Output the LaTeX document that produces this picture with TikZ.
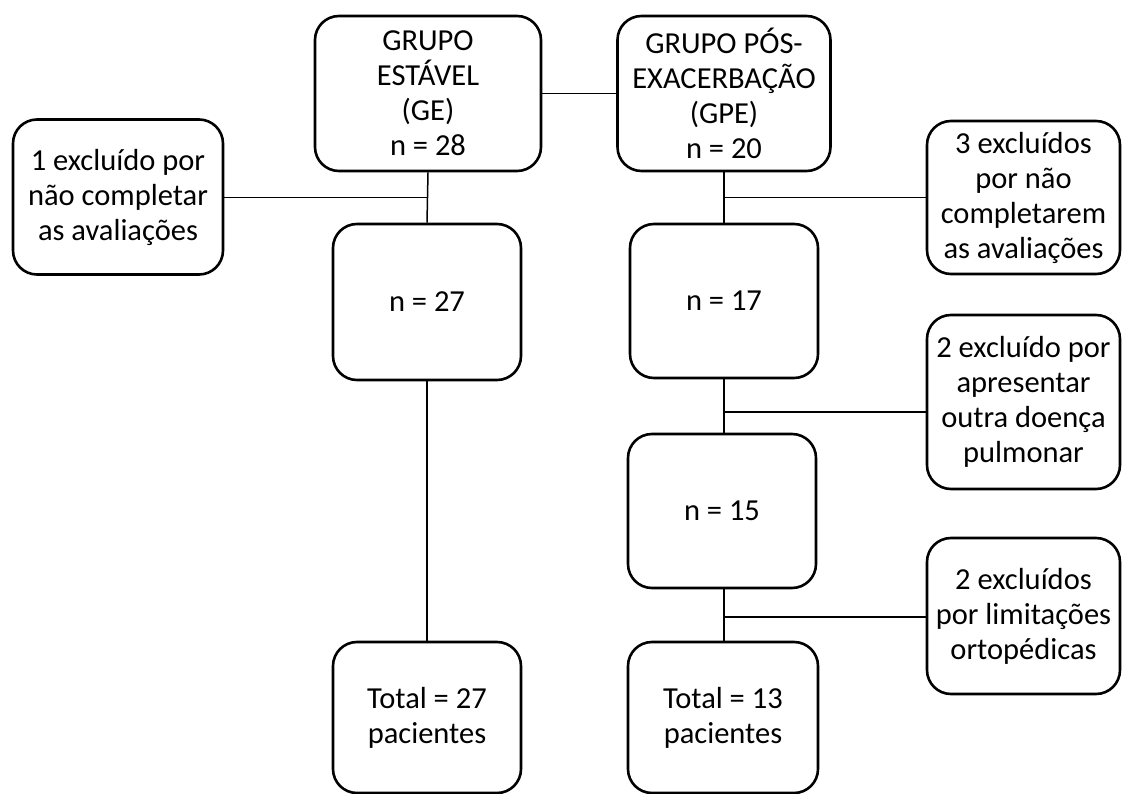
\documentclass[tikz,border=0pt]{standalone}
\usepackage{fontspec}
\setmainfont{Carlito}
\usetikzlibrary{calc}

\begin{document}
\begin{tikzpicture}[x=1pt,y=-1pt,
  flowbox/.style={draw=black,line width=2.6pt,rounded corners=24pt,fill=white,
    align=center,inner sep=0pt,font=\fontsize{30.5}{35}\selectfont},
  link/.style={draw=black,line width=1.5pt}]
  \useasboundingbox (0,0) rectangle (1125,794);

  % left column
  \node[flowbox,minimum width=226pt,minimum height=155pt] (ge) at (428,93.5)
    {GRUPO\\ESTÁVEL\\(GE)\\n = 28};
  \node[flowbox,minimum width=210pt,minimum height=155pt] (excl1) at (118,197)
    {1 excluído por\\não completar\\as avaliações};
  \node[flowbox,minimum width=188pt,minimum height=156pt] (n27) at (427,302)
    {n = 27};
  \node[flowbox,minimum width=188pt,minimum height=151pt] (tot27) at (427,717.5)
    {Total = 27\\pacientes};

  % right column
  \node[flowbox,minimum width=213pt,minimum height=155pt] (gpe) at (724,93.5)
    {GRUPO PÓS-\\EXACERBAÇÃO\\(GPE)\\n = 20};
  \node[flowbox,minimum width=188pt,minimum height=154pt] (n17) at (724,301)
    {n = 17};
  \node[flowbox,minimum width=188pt,minimum height=154pt] (n15) at (722,511)
    {n = 15};
  \node[flowbox,minimum width=190pt,minimum height=151pt] (tot13) at (723,717.5)
    {Total = 13\\pacientes};

  % exclusions
  \node[flowbox,minimum width=193pt,minimum height=153pt] (excl2) at (1023.5,197.5)
    {3 excluídos\\por não\\completarem\\as avaliações};
  \node[flowbox,minimum width=193pt,minimum height=174pt] (excl3) at (1023.5,402)
    {2 excluído por\\apresentar\\outra doença\\pulmonar};
  \node[flowbox,minimum width=193pt,minimum height=156pt] (excl4) at (1023.5,616)
    {2 excluídos\\por limitações\\ortopédicas};

  \coordinate (j1) at ($(ge.south)!0.5!(n27.north)$);
  \coordinate (j2) at ($(gpe.south)!0.5!(n17.north)$);
  \coordinate (j3) at (724,412);
  \coordinate (j4) at (724,617);

  \draw[link] (ge.east) -- (gpe.west);
  \draw[link] (ge.south) -- (n27.north);
  \draw[link] (n27.south) -- (tot27.north);
  \draw[link] (excl1.east |- j1) -- (j1);
  \draw[link] (gpe.south) -- (gpe.south |- n17.north);
  \draw[link] (j2) -- (excl2.west |- j2);
  \draw[link] (n17.south) -- (n17.south |- n15.north);
  \draw[link] (j3) -- (excl3.west |- j3);
  \draw[link] (j3 |- n15.south) -- (j3 |- tot13.north);
  \draw[link] (j4) -- (excl4.west |- j4);
\end{tikzpicture}
\end{document}
